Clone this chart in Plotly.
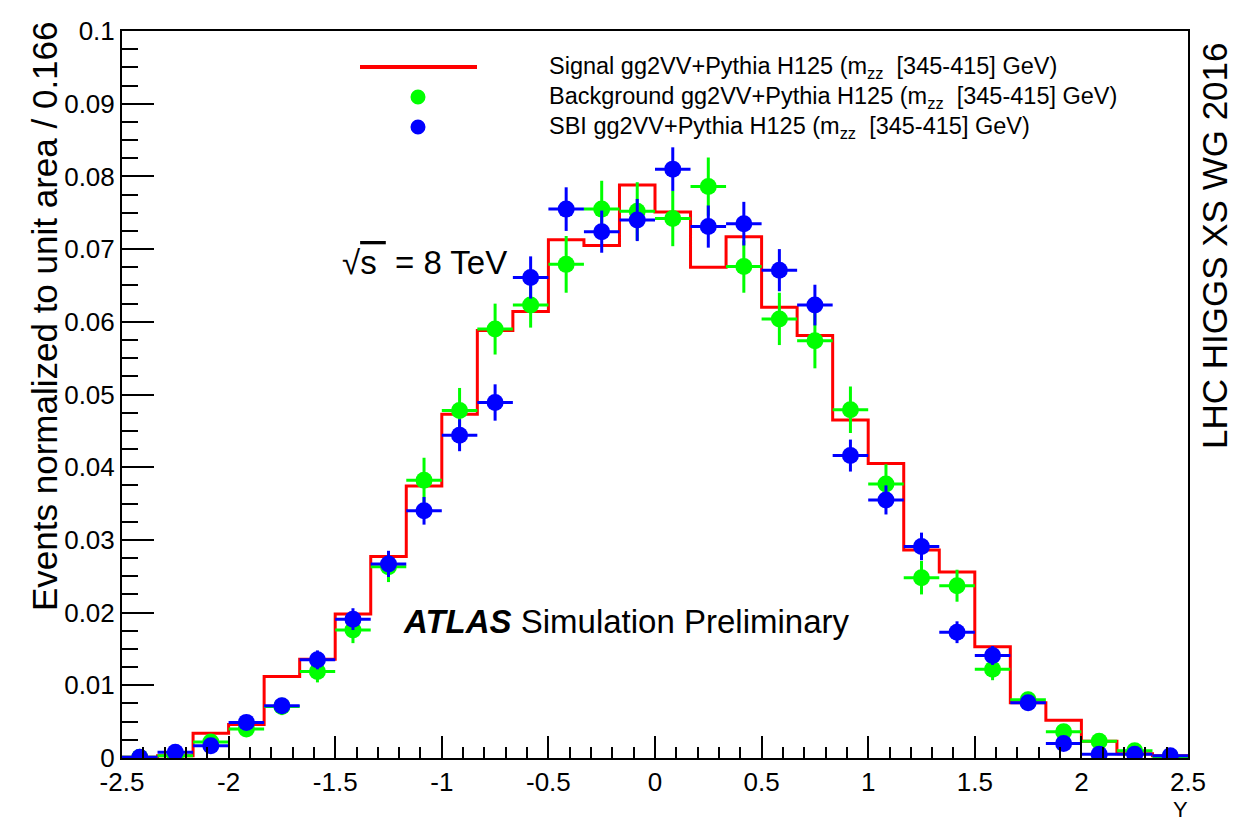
import plotly.graph_objects as go

# ---- binning ----
x_min, x_max, n_bins = -2.5, 2.5, 30
bin_w = (x_max - x_min) / n_bins
bin_edges = [x_min + i * bin_w for i in range(n_bins + 1)]
bin_centers = [x_min + (i + 0.5) * bin_w for i in range(n_bins)]

# ---- data ----
signal = [0.0001, 0.0003, 0.0034, 0.0046, 0.0112, 0.0136, 0.0198, 0.0277, 0.0374, 0.0473,
          0.0588, 0.0614, 0.0713, 0.0705, 0.0788, 0.0751, 0.0675, 0.0717, 0.0620, 0.0581,
          0.0465, 0.0405, 0.0286, 0.0256, 0.0153, 0.0076, 0.0052, 0.0023, 0.0006, 0.0003]

background = [0.0001, 0.0003, 0.0022, 0.0040, 0.0071, 0.0119, 0.0176, 0.0263, 0.0382, 0.0478,
              0.0590, 0.0623, 0.0679, 0.0755, 0.0752, 0.0742, 0.0786, 0.0676, 0.0604, 0.0574,
              0.0479, 0.0377, 0.0248, 0.0237, 0.0122, 0.0080, 0.0036, 0.0023, 0.0010, 0.0002]
background_err = [0.0001, 0.0003, 0.0008, 0.0010, 0.0012, 0.0015, 0.0018, 0.0021, 0.0031, 0.0031,
                  0.0035, 0.0031, 0.0039, 0.0039, 0.0040, 0.0038, 0.0040, 0.0036, 0.0036, 0.0038,
                  0.0032, 0.0027, 0.0023, 0.0022, 0.0015, 0.0011, 0.0007, 0.0005, 0.0003, 0.0001]

sbi = [0.0001, 0.0008, 0.0017, 0.0049, 0.0072, 0.0135, 0.0191, 0.0267, 0.0340, 0.0444,
       0.0489, 0.0661, 0.0755, 0.0724, 0.0740, 0.0810, 0.0731, 0.0735, 0.0671, 0.0623,
       0.0416, 0.0355, 0.0291, 0.0173, 0.0141, 0.0076, 0.0020, 0.0005, 0.0005, 0.0003]
sbi_err = [0.0001, 0.0003, 0.0005, 0.0007, 0.0009, 0.0013, 0.0015, 0.0018, 0.0019, 0.0022,
           0.0025, 0.0029, 0.0030, 0.0029, 0.0029, 0.0030, 0.0029, 0.0030, 0.0029, 0.0028,
           0.0022, 0.0020, 0.0019, 0.0015, 0.0013, 0.0009, 0.0005, 0.0002, 0.0002, 0.0002]

x_tick_vals = [-2.5, -2, -1.5, -1, -0.5, 0, 0.5, 1, 1.5, 2, 2.5]
x_tick_text = ["-2.5", "-2", "-1.5", "-1", "-0.5", "0", "0.5", "1", "1.5", "2", "2.5"]
y_tick_vals = [0, 0.01, 0.02, 0.03, 0.04, 0.05, 0.06, 0.07, 0.08, 0.09, 0.1]
y_tick_text = ["0", "0.01", "0.02", "0.03", "0.04", "0.05", "0.06", "0.07", "0.08", "0.09", "0.1"]

legend_labels = [
    "Signal gg2VV+Pythia H125 (m<sub>zz</sub>  [345-415] GeV)",
    "Background gg2VV+Pythia H125 (m<sub>zz</sub>  [345-415] GeV)",
    "SBI gg2VV+Pythia H125 (m<sub>zz</sub>  [345-415] GeV)",
]

RED, GREEN, BLUE = "#ff0000", "#00ff00", "#0000ff"
FONT = "Liberation Sans, Arial, sans-serif"

W, H = 1247, 821
ML, MR, MT, MB = 122, 59, 31, 63
PW, PH = W - ML - MR, H - MT - MB


def px(xp):
    return (xp - ML) / PW


def py(yp):
    return (H - MB - yp) / PH


fig = go.Figure()

# signal histogram (step)
fig.add_trace(go.Scatter(
    x=bin_edges, y=signal + [signal[-1]], mode="lines",
    line=dict(color=RED, width=3, shape="hv"), showlegend=False, hoverinfo="skip"))

half = [bin_w / 2] * n_bins
for vals, errs, col in [(background, background_err, GREEN), (sbi, sbi_err, BLUE)]:
    fig.add_trace(go.Scatter(
        x=bin_centers, y=vals, mode="markers",
        marker=dict(color=col, size=17, line=dict(width=0)),
        error_x=dict(type="data", array=half, visible=True, color=col, thickness=3, width=0),
        error_y=dict(type="data", array=errs, visible=True, color=col, thickness=3, width=0),
        showlegend=False))

shapes = []
# manual legend
shapes.append(dict(type="line", xref="paper", yref="paper",
                   x0=px(360), x1=px(477), y0=py(67), y1=py(67),
                   line=dict(color=RED, width=4)))
for yc, col in [(97, GREEN), (127, BLUE)]:
    r = 7.5
    shapes.append(dict(type="circle", xref="paper", yref="paper",
                       x0=px(418 - r), x1=px(418 + r), y0=py(yc + r), y1=py(yc - r),
                       fillcolor=col, line=dict(color=col, width=0)))

annotations = []
for lbl, yc in zip(legend_labels, [67, 97, 127]):
    annotations.append(dict(xref="paper", yref="paper", x=px(547), y=py(yc),
                            xanchor="left", yanchor="middle", text=lbl, showarrow=False,
                            font=dict(family=FONT, size=23.5, color="black")))

annotations += [
    dict(xref="paper", yref="paper", x=px(45), y=py(316), text="Events normalized to unit area / 0.166",
         textangle=-90, showarrow=False, xanchor="center", yanchor="middle",
         font=dict(family=FONT, size=35, color="black")),
    dict(xref="paper", yref="paper", x=px(1214), y=py(246), text="LHC HIGGS XS WG 2016",
         textangle=-90, showarrow=False, xanchor="center", yanchor="middle",
         font=dict(family=FONT, size=35, color="black")),
    dict(xref="paper", yref="paper", x=px(1190), y=py(809), text="Y",
         showarrow=False, xanchor="right", yanchor="middle",
         font=dict(family=FONT, size=22, color="black")),
    dict(xref="paper", yref="paper", x=px(401), y=py(621),
         text="<b><i>ATLAS</i></b> Simulation Preliminary",
         showarrow=False, xanchor="left", yanchor="middle",
         font=dict(family=FONT, size=33, color="black")),
    dict(xref="paper", yref="paper", x=px(340), y=py(262),
         text="√<span style='text-decoration:overline'>s </span> = 8 TeV",
         showarrow=False, xanchor="left", yanchor="middle",
         font=dict(family=FONT, size=33, color="black")),
]

fig.update_layout(
    width=W, height=H,
    margin=dict(l=ML, r=MR, t=MT, b=MB, pad=0),
    paper_bgcolor="white", plot_bgcolor="white",
    showlegend=False,
    shapes=shapes, annotations=annotations,
    font=dict(family=FONT, size=26, color="black"),
)

fig.update_xaxes(
    range=[x_min, x_max], showgrid=False, zeroline=False,
    showline=True, mirror=True, linecolor="black", linewidth=2,
    tickmode="array", tickvals=x_tick_vals, ticktext=x_tick_text,
    ticks="inside", ticklen=22, tickwidth=2, tickcolor="black",
    minor=dict(dtick=0.1, ticks="inside", ticklen=11, tickwidth=2, tickcolor="black", showgrid=False),
    tickfont=dict(family=FONT, size=26, color="black"),
)
fig.update_yaxes(
    range=[0, 0.1], showgrid=False, zeroline=False,
    showline=True, mirror=True, linecolor="black", linewidth=2,
    tickmode="array", tickvals=y_tick_vals, ticktext=y_tick_text,
    ticks="inside", ticklen=32, tickwidth=2, tickcolor="black",
    minor=dict(dtick=0.0025, ticks="inside", ticklen=16, tickwidth=2, tickcolor="black", showgrid=False),
    tickfont=dict(family=FONT, size=26, color="black"),
)

fig.write_html("out.html")
